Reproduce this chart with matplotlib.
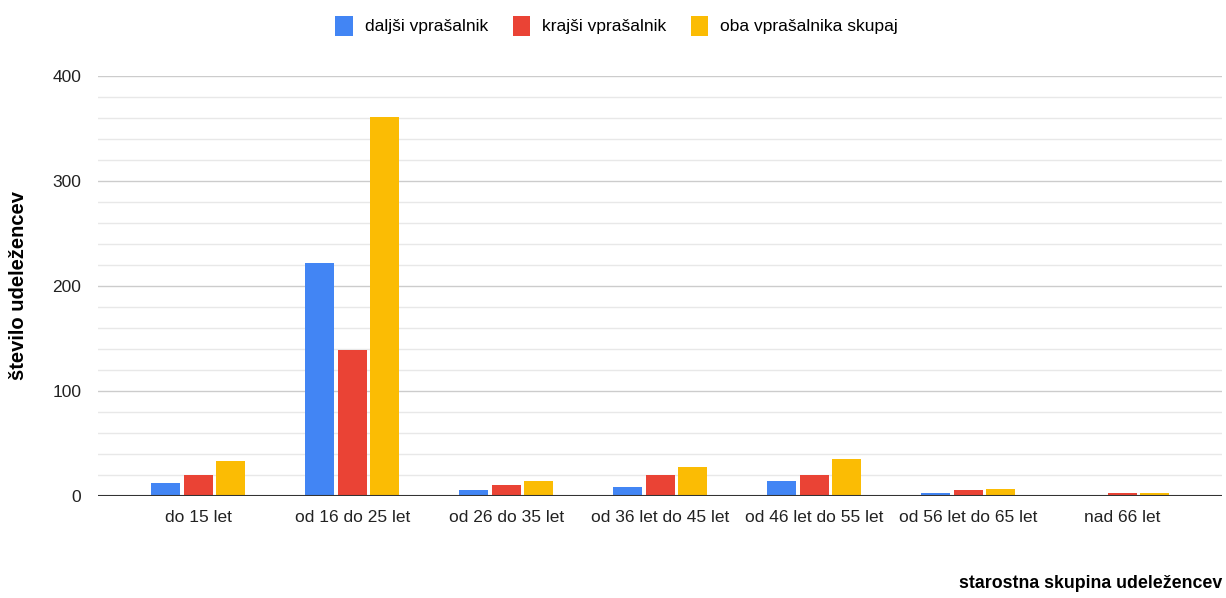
#Import libraries
import numpy as np
import matplotlib.pyplot as plt

plt.rcParams['font.family'] = ['Liberation Sans', 'DejaVu Sans']

#Data
categories = ["do 15 let", "od 16 do 25 let", "od 26 do 35 let", "od 36 let do 45 let",
              "od 46 let do 55 let", "od 56 let do 65 let", "nad 66 let"]
daljsi = [12, 222, 5, 8, 14, 3, 0]
krajsi = [20, 139, 10, 20, 20, 5, 3]
oba = [33, 361, 14, 27, 35, 6, 3]

series = [
    ("daljši vprašalnik", daljsi, "#4285f4"),
    ("krajši vprašalnik", krajsi, "#ea4335"),
    ("oba vprašalnika skupaj", oba, "#fbbc04"),
]

fig = plt.figure(figsize=(12.26, 5.98), dpi=100)
ax = fig.add_axes([0.080, 0.171, 0.917, 0.702])

x = np.arange(len(categories))
step = 0.211
width = 0.189
for i, (name, vals, col) in enumerate(series):
    ax.bar(x + (i - 1) * step, vals, width, color=col, label=name, zorder=3)

#Axes and grid
ax.set_xlim(-0.65, len(categories) - 1 + 0.65)
ax.set_ylim(0, 400)
ax.set_yticks([0, 100, 200, 300, 400])
ax.set_yticks(np.arange(0, 401, 20), minor=True)
ax.grid(axis="y", which="major", color="#cccccc", linewidth=1.0, zorder=0)
ax.grid(axis="y", which="minor", color="#e8e8e8", linewidth=1.0, zorder=0)
ax.axhline(0, color="#333333", linewidth=1.5, zorder=4)
for s in ax.spines.values():
    s.set_visible(False)
ax.tick_params(axis="both", which="both", length=0, labelsize=12.5, colors="#222222")
ax.tick_params(axis="y", pad=12)
ax.tick_params(axis="x", pad=10)
ax.set_xticks(x)
ax.set_xticklabels(categories)

ax.set_ylabel("število udeležencev", fontsize=14.5, fontweight="bold")
ax.yaxis.set_label_coords(-0.062, 0.5)
fig.text(0.997, 0.010, "starostna skupina udeležencev", ha="right", va="bottom",
         fontsize=12.8, fontweight="bold")

fig.legend(loc="upper center", bbox_to_anchor=(0.503, 1.0), ncol=3, frameon=False,
           fontsize=12.5, handlelength=1.0, handleheight=1.4, columnspacing=1.4,
           handletextpad=0.7)

plt.savefig("out.png", dpi=100)
